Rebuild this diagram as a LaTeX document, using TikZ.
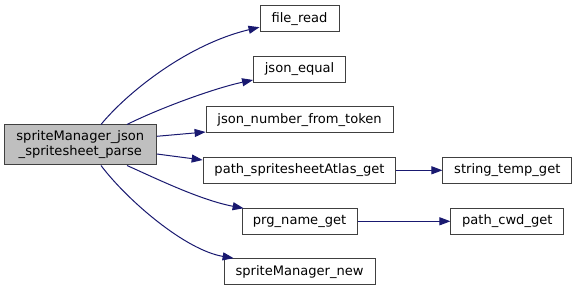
\documentclass[tikz,border=0pt]{standalone}
\usepackage{fontspec}
\setmainfont{DejaVu Sans}
\usetikzlibrary{arrows.meta,calc}
\definecolor{edgeblue}{HTML}{191970}
\definecolor{rootfill}{HTML}{BFBFBF}
\definecolor{boxline}{HTML}{404040}
\begin{document}
\begin{tikzpicture}[x=0.75pt,y=-0.75pt,
  fn/.style={draw=boxline,fill=white,line width=0.75pt,inner sep=0pt,
    minimum height=19.5pt,font=\fontsize{9.8}{11.25}\selectfont},
  root/.style={fn,fill=rootfill,minimum height=30pt,align=center},
  call/.style={draw=edgeblue,line width=0.75pt,
    -{Triangle[length=8.25pt,width=6pt]}}]
\useasboundingbox (0,0) rectangle (577,291);

% caller
\node[root,minimum width=114pt] (root) at (80.3,145)
  {spriteManager\_json\\\_spritesheet\_parse};

% callees
\node[fn,minimum width=59.25pt]  (fr) at (299.5,18.7)  {file\_read};
\node[fn,minimum width=69pt]     (je) at (299.6,69.2)  {json\_equal};
\node[fn,minimum width=140.25pt] (jn) at (299.6,120)   {json\_number\_from\_token};
\node[fn,minimum width=144.5pt]  (pa) at (299.5,170.3) {path\_spritesheetAtlas\_get};
\node[fn,minimum width=96.5pt]   (st) at (507.3,170.3) {string\_temp\_get};
\node[fn,minimum width=86.25pt]  (pn) at (299.6,221.3) {prg\_name\_get};
\node[fn,minimum width=84.5pt]   (pc) at (507.3,221.3) {path\_cwd\_get};
\node[fn,minimum width=113.25pt] (sn) at (299.6,271.7) {spriteManager\_new};

% call edges
\draw[call] ($(root.north)+(20.7,0)$) .. controls (125,95) and (185,45) .. ($(fr.west)+(0,8.5)$);
\draw[call] ($(root.north)+(46.7,0)$) .. controls (160,108) and (215,88) .. ($(je.west)+(0,10.8)$);
\draw[call] ($(root.east)+(0,-8.7)$) -- ($(jn.south west)+(0,-1.5)$);
\draw[call] ($(root.east)+(0,9)$) -- ($(pa.west)+(0,-10.3)$);
\draw[call] (pa) -- (st);
\draw[call] ($(root.south)+(46.7,0)$) .. controls (155,178) and (200,200) .. ($(pn.north west)+(2,0.5)$);
\draw[call] (pn) -- (pc);
\draw[call] ($(root.south)+(20.7,0)$) .. controls (127,200) and (185,250) .. ($(sn.north west)+(10,0)$);
\end{tikzpicture}
\end{document}
